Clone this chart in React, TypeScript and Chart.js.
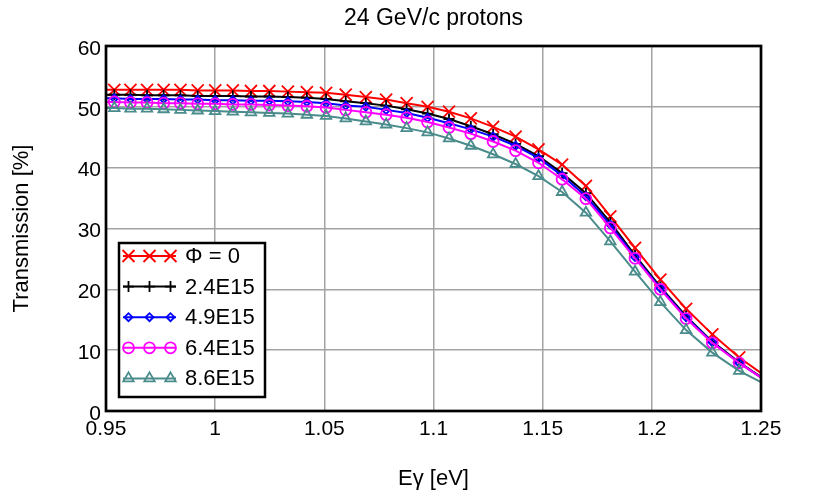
import React, { useEffect, useRef } from 'react';
import { Chart, registerables } from 'chart.js';
import { drawPoint } from 'chart.js/helpers';

Chart.register(...registerables);

// photon energy in eV (10 nm steps in wavelength)
const photonEnergy = [
  0.9466, 0.9538, 0.9612, 0.9688, 0.9764, 0.9841, 0.992, 1.0, 1.0081, 1.0164, 1.0248,
  1.0333, 1.042, 1.0508, 1.0598, 1.069, 1.0783, 1.0877, 1.0973, 1.1071, 1.1171, 1.1273,
  1.1376, 1.1481, 1.1589, 1.1698, 1.181, 1.1923, 1.2039, 1.2157, 1.2277, 1.24, 1.2525,
];

const phi0 = [
  52.8, 52.8, 52.8, 52.8, 52.8, 52.8, 52.7, 52.7, 52.7, 52.6, 52.6, 52.5, 52.4, 52.3, 52.0,
  51.6, 51.2, 50.6, 50.0, 49.2, 48.1, 46.7, 45.1, 43.0, 40.5, 37.0, 32.0, 26.8, 21.6, 16.8,
  12.6, 8.8, 5.6,
];
const phi24 = [
  52.0, 52.0, 52.0, 51.9, 51.9, 51.9, 51.8, 51.8, 51.8, 51.7, 51.7, 51.6, 51.5, 51.3, 50.9,
  50.6, 50.2, 49.6, 48.9, 48.0, 46.8, 45.5, 43.9, 41.9, 39.1, 35.8, 31.0, 25.6, 20.4, 15.6,
  11.4, 8.0, 5.0,
];
const phi49 = [
  51.4, 51.4, 51.3, 51.3, 51.3, 51.2, 51.2, 51.1, 51.1, 51.0, 51.0, 50.9, 50.8, 50.6, 50.2,
  50.0, 49.5, 49.0, 48.2, 47.3, 46.3, 45.1, 43.6, 41.6, 38.7, 35.3, 30.6, 25.3, 20.2, 15.4,
  11.3, 7.9, 4.9,
];
const phi64 = [
  50.8, 50.8, 50.7, 50.7, 50.6, 50.6, 50.5, 50.5, 50.4, 50.4, 50.3, 50.2, 50.1, 49.9, 49.5,
  49.1, 48.7, 48.2, 47.5, 46.6, 45.6, 44.3, 42.8, 40.8, 38.1, 34.9, 30.1, 25.1, 20.0, 15.2,
  11.2, 7.9, 4.9,
];
const phi86 = [
  49.8, 49.8, 49.7, 49.7, 49.6, 49.5, 49.4, 49.3, 49.2, 49.1, 49.0, 48.9, 48.7, 48.5, 48.1,
  47.6, 47.1, 46.5, 45.8, 44.8, 43.6, 42.2, 40.6, 38.6, 36.0, 32.6, 27.9, 22.9, 17.9, 13.3,
  9.6, 6.6, 4.3,
];

const seriesLabels = ['Φ = 0', '2.4E15', '4.9E15', '6.4E15', '8.6E15'];
const seriesValues = [phi0, phi24, phi49, phi64, phi86];

const xTicks = [0.95, 1, 1.05, 1.1, 1.15, 1.2, 1.25];
const xTickLabels = ['0.95', '1', '1.05', '1.1', '1.15', '1.2', '1.25'];
const yTicks = [0, 10, 20, 30, 40, 50, 60];
const yTickLabels = ['0', '10', '20', '30', '40', '50', '60'];

const styles = [
  { color: '#ff0000', pointStyle: 'crossRot', radius: 8.5 },
  { color: '#000000', pointStyle: 'cross', radius: 5.5 },
  { color: '#0000ff', pointStyle: 'rectRot', radius: 4 },
  { color: '#ff00ff', pointStyle: 'circle', radius: 5.5 },
  { color: '#4a8b8b', pointStyle: 'triangle', radius: 6 },
];

const FONT = '"Liberation Sans", Arial, sans-serif';

// black frame round the plot + legend box with line/marker samples
const frameAndLegend = {
  id: 'frameAndLegend',
  afterDatasetsDraw(chart: any) {
    const { ctx, chartArea: a } = chart;
    ctx.save();
    ctx.strokeStyle = '#000';
    ctx.lineWidth = 2.7;
    ctx.strokeRect(a.left, a.top, a.right - a.left, a.bottom - a.top);

    const bx = a.left + 13;
    const by = a.top + 197;
    const bw = 146;
    const bh = 154;
    ctx.fillStyle = '#fff';
    ctx.fillRect(bx, by, bw, bh);
    ctx.lineWidth = 2.5;
    ctx.strokeRect(bx, by, bw, bh);

    ctx.font = '22px ' + FONT;
    ctx.textBaseline = 'middle';
    ctx.textAlign = 'left';
    chart.data.datasets.forEach((ds: any, i: number) => {
      const y = by + 13 + i * 30.6;
      const x0 = bx + 4;
      const x1 = bx + 57;
      ctx.strokeStyle = ds.borderColor;
      ctx.lineWidth = 2;
      ctx.beginPath();
      ctx.moveTo(x0, y);
      ctx.lineTo(x1, y);
      ctx.stroke();
      ctx.fillStyle = 'rgba(0,0,0,0)';
      ctx.lineWidth = 1.8;
      [x0 + 5.5, x0 + 26.5, x0 + 47.5].forEach((px) => {
        drawPoint(ctx, { pointStyle: ds.pointStyle, radius: ds.pointRadius, rotation: 0, borderWidth: 1.8 } as any, px, y);
      });
      ctx.fillStyle = '#000';
      ctx.fillText(ds.label, bx + 66, y + 1);
    });
    ctx.restore();
  },
};

const App = () => {
  const canvasRef = useRef<HTMLCanvasElement>(null);

  useEffect(() => {
    const canvas = canvasRef.current;
    if (!canvas) return;

    const datasets = seriesValues.map((vals, i) => ({
      label: seriesLabels[i],
      data: vals.map((v, k) => ({ x: photonEnergy[k], y: v })),
      borderColor: styles[i].color,
      backgroundColor: 'rgba(0,0,0,0)',
      borderWidth: 2,
      pointStyle: styles[i].pointStyle,
      pointRadius: styles[i].radius,
      pointBorderColor: styles[i].color,
      pointBackgroundColor: 'rgba(0,0,0,0)',
      pointBorderWidth: 1.8,
      tension: 0,
      clip: 0,
      order: 5 - i,
    }));

    const chart = new Chart(canvas, {
      type: 'line',
      data: { datasets } as any,
      options: {
        animation: false,
        responsive: true,
        maintainAspectRatio: false,
        layout: { padding: { left: 0, right: 69, top: 0, bottom: 0 } },
        font: { family: FONT },
        color: '#000',
        plugins: {
          legend: { display: false },
          tooltip: { enabled: false },
          title: {
            display: true,
            text: '24 GeV/c protons',
            color: '#000',
            fullSize: false,
            font: { family: FONT, size: 23, weight: 'normal' },
            padding: { top: 5, bottom: 13.4 },
          },
        },
        scales: {
          x: {
            type: 'linear',
            min: 0.95,
            max: 1.25,
            afterFit: (scale: any) => {
              scale.height = 90;
            },
            afterBuildTicks: (scale: any) => {
              scale.ticks = xTicks.map((value) => ({ value }));
            },
            ticks: {
              autoSkip: false,
              maxRotation: 0,
              padding: 6,
              color: '#000',
              font: { family: FONT, size: 21 },
              callback: (_v: any, i: number) => xTickLabels[i],
            },
            grid: { color: '#a3a3a3', lineWidth: 1.5, drawTicks: false },
            border: { display: false },
            title: {
              display: true,
              text: 'Eγ [eV]',
              color: '#000',
              font: { family: FONT, size: 22 },
              padding: { top: 0, bottom: 9 },
            },
          },
          y: {
            type: 'linear',
            min: 0,
            max: 60,
            afterFit: (scale: any) => {
              scale.width = 106;
            },
            afterBuildTicks: (scale: any) => {
              scale.ticks = yTicks.map((value) => ({ value }));
            },
            ticks: {
              padding: 5,
              labelOffset: 3,
              color: '#000',
              font: { family: FONT, size: 21 },
              callback: (_v: any, i: number) => yTickLabels[i],
            },
            grid: { color: '#a3a3a3', lineWidth: 1.5, drawTicks: false },
            border: { display: false },
            title: {
              display: true,
              text: 'Transmission [%]',
              color: '#000',
              font: { family: FONT, size: 22 },
              padding: { top: 9, bottom: 0 },
            },
          },
        },
      },
      plugins: [frameAndLegend],
    });

    return () => {
      chart.destroy();
    };
  }, []);

  return (
    <div style={{ position: 'fixed', left: 0, top: 0, width: 830, height: 501, background: '#fff' }}>
      <canvas ref={canvasRef}></canvas>
    </div>
  );
};

export default App;
